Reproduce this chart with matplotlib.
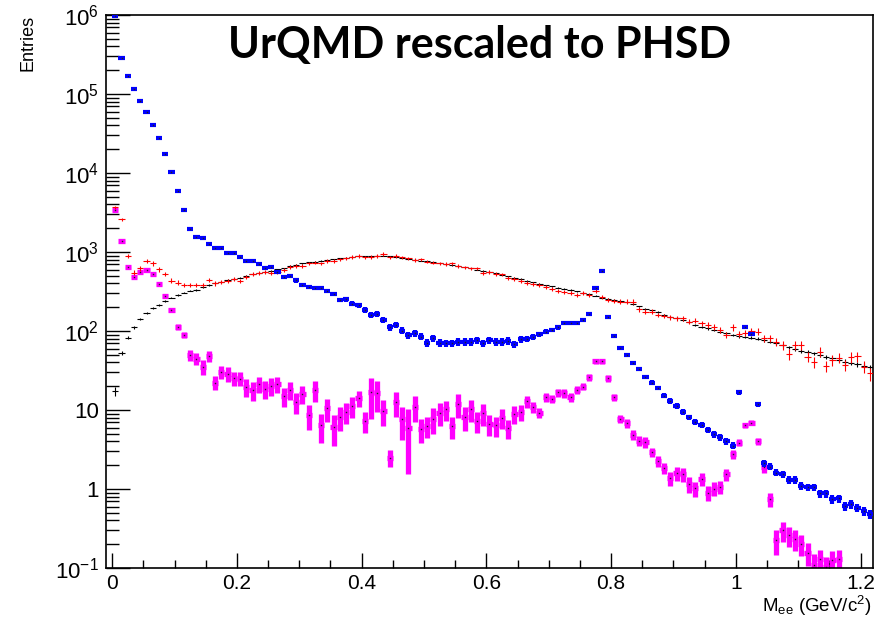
import numpy as np
import matplotlib
matplotlib.use('Agg')
import matplotlib.pyplot as plt
from matplotlib.ticker import LogLocator, MultipleLocator, FuncFormatter, NullFormatter, FixedLocator

plt.rcParams['font.family'] = ['Liberation Sans', 'DejaVu Sans']
plt.rcParams['mathtext.fontset'] = 'custom'
plt.rcParams['mathtext.rm'] = 'Liberation Sans'
plt.rcParams['mathtext.it'] = 'Liberation Sans:italic'
plt.rcParams['mathtext.bf'] = 'Liberation Sans:bold'

# ---------------- data (bin width 0.01 GeV/c^2, 122 bins) ----------------
bin_width = 0.01
mass = np.round(np.arange(122) * bin_width + bin_width / 2, 4)

blue = [9.7e5, 2.83e5, 1.67e5, 1.17e5, 8.2e4, 6.0e4, 4.1e4, 2.8e4, 1.75e4, 1.03e4,
        5900, 3400, 1970, 1560, 1500, 1250, 1120, 1120, 980, 980,
        855, 780, 760, 698, 627, 640, 563, 487, 497, 438,
        382, 360, 353, 347, 323, 294, 247, 251, 222, 211,
        185, 160, 164, 138, 111, 119, 101, 89, 94, 85,
        71, 81, 71, 70, 70, 73, 73, 73, 77, 70,
        77, 73, 73, 75, 68, 78.5, 80, 85, 91, 98,
        103, 111, 125, 125, 127, 138, 164, 353, 580, 152,
        87, 61.5, 49.7, 39, 32.7, 26.4, 22.2, 19, 15.2, 13,
        11.2, 9.5, 8.07, 7.05, 6.5, 5.58, 4.92, 4.5, 4.0, 3.53,
        16.7, 113, 91, 11.8, 2.11, 1.92, 1.61, 1.53, 1.30, 1.30,
        1.10, 1.05, 1.05, 0.88, 0.88, 0.74, 0.76, 0.61, 0.64, 0.58,
        0.53, 0.48]
blue_err = [2000, 800, 600, 500, 400, 300, 250, 200, 150, 100,
            70, 50, 40, 35, 35, 30, 30, 30, 28, 28,
            26, 25, 24, 23, 22, 38, 34, 30, 30, 27,
            24, 22, 22, 21, 20, 19, 16, 16, 15, 14,
            17, 15, 15, 13, 11, 11, 10, 9, 9, 9,
            8, 8, 8, 8, 8, 8, 8, 8, 8, 8,
            8, 8, 8, 8, 7, 8, 7, 7, 7, 7,
            7, 7, 7, 7, 7, 7, 8, 12, 15, 6,
            4, 3, 2.5, 2, 1.8, 1.6, 1.5, 1.3, 1.1, 1.0,
            0.9, 0.8, 0.7, 0.6, 0.6, 0.5, 0.45, 0.42, 0.38, 0.35,
            1.2, 4, 4, 1.0, 0.22, 0.2, 0.17, 0.16, 0.14, 0.14,
            0.12, 0.12, 0.12, 0.1, 0.1, 0.09, 0.09, 0.08, 0.08, 0.075,
            0.07, 0.065]

magenta = [3400, 1390, 640, 487, 563, 600, 525, 393, 279, 185,
           113, 89, 49.7, 44.7, 35.3, 48.3, 22.2, 30.5, 28.6, 25.2,
           25, 19.7, 17.9, 21.3, 18.6, 20.1, 21.3, 15.0, 17.9, 12.6,
           16, 8.65, 17.9, 6.4, 10.5, 6.03, 8.2, 9.44, 11.35, 14.1,
           7.2, 16.7, 16.3, 9.8, 2.5, 12.6, 7.6, 5.97, 11.0, 5.8,
           6.27, 7.7, 9.25, 10.2, 6.27, 11.9, 8.07, 10.2, 7.3, 9.1,
           6.65, 6.4, 8.0, 5.86, 9.0, 9.44, 12.9, 11.0, 9.25, 14.7,
           13.9, 16.7, 16.3, 14.4, 17.9, 19.7, 26.2, 41.3, 41.3, 25.4,
           14.5, 7.76, 6.79, 4.87, 4.09, 3.93, 2.91, 2.26, 1.83, 1.38,
           1.58, 1.53, 1.15, 1.02, 1.35, 0.90, 1.01, 1.07, 1.53, 2.77,
           3.86, 6.4, 6.9, 4.0, 1.88, 0.74, 0.226, 0.30, 0.26, 0.235,
           0.20, 0.155, 0.109, 0.129, 0.103, 0.126, 0.129, np.nan, np.nan, np.nan,
           np.nan, np.nan]
magenta_err = [80, 40, 25, 22, 24, 25, 22, 18, 15, 12,
               9, 8, 8, 7.6, 7.5, 8, 4.5, 6, 6, 5,
               5, 5, 5, 5, 5, 5, 5, 4, 4.5, 3.8,
               4, 3, 5.4, 2.6, 3.4, 2.5, 2.7, 2.8, 3.4, 3.1,
               2.1, 9, 7, 3.6, 0.6, 4.4, 3.4, 4.4, 4, 2,
               1.9, 2.8, 2.9, 2.9, 2, 4, 2.7, 3.2, 2.2, 2.8,
               1.9, 1.8, 2.2, 1.6, 2.4, 2.2, 2.2, 1.8, 1.4, 1.9,
               1.8, 2, 2, 1.8, 2, 2, 2.6, 3, 3, 2.5,
               1.5, 1.0, 0.9, 0.7, 0.6, 0.6, 0.4, 0.35, 0.3, 0.28,
               0.3, 0.3, 0.25, 0.22, 0.25, 0.2, 0.2, 0.2, 0.25, 0.35,
               0.4, 0.5, 0.5, 0.4, 0.3, 0.15, 0.08, 0.085, 0.075, 0.07,
               0.06, 0.05, 0.04, 0.04, 0.035, 0.04, 0.04, np.nan, np.nan, np.nan,
               np.nan, np.nan]

red = [3680, 2590, 890, 547, 622, 769, 719, 604, 527, 434,
       409, 382, 382, 382, 382, 442, 401, 420, 432, 455,
       432, 479, 527, 537, 552, 537, 563, 592, 640, 665,
       665, 719, 733, 719, 776, 776, 807, 832, 870, 890,
       855, 870, 890, 944, 855, 890, 855, 832, 790, 807,
       755, 733, 719, 705, 719, 665, 640, 621, 621, 547,
       563, 527, 522, 473, 451, 434, 409, 393, 382, 357,
       337, 321, 315, 306, 286, 300, 286, 324, 272, 247,
       240, 236, 236, 236, 188, 176, 176, 160, 155, 149,
       145, 145, 131, 135, 125, 119, 113, 103, 89, 111,
       92, 95, 100, 98, 81, 81, 73, 66.5, 51, 66.5,
       66.5, 47.3, 41, 55, 36, 43, 46, 37, 46.5, 48,
       35.3, 29]
red_err = [150, 110, 60, 40, 42, 48, 45, 40, 35, 30,
           28, 26, 26, 26, 26, 28, 26, 27, 27, 28,
           27, 29, 31, 31, 32, 31, 32, 33, 35, 36,
           36, 38, 38, 38, 40, 40, 41, 42, 43, 44,
           43, 43, 44, 46, 43, 44, 43, 42, 40, 40,
           38, 37, 36, 36, 36, 34, 33, 32, 32, 29,
           30, 28, 28, 26, 25, 24, 23, 22, 22, 20,
           19, 19, 18, 18, 17, 17, 17, 18, 16, 15,
           15, 15, 15, 15, 13, 12, 12, 11, 11, 11,
           11, 11, 10, 10, 10, 9.5, 9, 9, 8.5, 10,
           9, 9, 10, 10, 9, 9, 9, 8.5, 7.5, 8.5,
           8.5, 7, 6.5, 7.5, 6, 6.5, 7, 6, 7, 7,
           6, 5.5]

black = [17.4, 53, 82, 111, 141, 167, 197, 213, 242, 264,
         286, 306, 324, 330, 357, 382, 401, 420, 442, 455,
         474, 497, 521, 546, 564, 580, 603, 622, 665, 685,
         719, 740, 755, 776, 790, 815, 832, 848, 870, 880,
         880, 890, 900, 900, 885, 870, 850, 825, 800, 780,
         760, 740, 720, 700, 680, 660, 640, 620, 600, 580,
         558, 536, 515, 495, 470, 455, 435, 415, 398, 380,
         368, 355, 342, 330, 318, 302, 290, 280, 265, 257,
         249, 240, 230, 220, 205, 192, 182, 172, 160, 152,
         145, 138, 130, 120, 113, 108, 103, 98, 94, 89,
         86, 84, 82, 80, 76, 73, 70, 66, 62, 59,
         56, 54, 52, 50, 47, 45, 43, 41, 39.5, 38,
         36.5, 35]
black_err = [2.2, 3.0, 3.5, 4.0, 4.5, 5.0, 5.5, 5.5, 6.0, 6.0,
             6.5, 6.5, 7, 7, 7, 7.5, 7.5, 8, 8, 8,
             8, 8.5, 8.5, 9, 9, 9, 9.5, 9.5, 10, 10,
             10, 10, 10.5, 10.5, 10.5, 11, 11, 11, 11, 11,
             11, 11, 11, 11, 11, 11, 11, 11, 10.5, 10.5,
             10, 10, 10, 10, 10, 9.5, 9.5, 9, 9, 9,
             8.5, 8.5, 8.5, 8, 8, 8, 7.5, 7.5, 7.5, 7,
             7, 7, 6.5, 6.5, 6.5, 6, 6, 6, 6, 6,
             5.5, 5.5, 5.5, 5.5, 5, 5, 5, 5, 4.5, 4.5,
             4.5, 4.5, 4.5, 4, 4, 4, 4, 4, 4, 3.5,
             3.5, 3.5, 3.5, 3.5, 3.5, 3.5, 3, 3, 3, 3,
             3, 3, 3, 3, 3, 2.8, 2.8, 2.8, 2.6, 2.6,
             2.5, 2.5]

title = "UrQMD rescaled to PHSD"
ytick_vals = [1e-1, 1, 10, 1e2, 1e3, 1e4, 1e5, 1e6]
ytick_text = [r'$10^{-1}$', '1', '10', r'$10^{2}$', r'$10^{3}$', r'$10^{4}$', r'$10^{5}$', r'$10^{6}$']

# ---------------- figure ----------------
W, H = 878, 619
fig = plt.figure(figsize=(W / 100, H / 100), dpi=100)
ax = fig.add_axes([106 / W, 1 - 568 / H, (873 - 106) / W, (568 - 15) / H])
ax.set_yscale('log')
ax.set_xlim(-0.01, 1.22)
ax.set_ylim(0.1, 1e6)


def draw(vals, errs, color, lw, z, dot=False):
    v = np.asarray(vals, dtype=float)
    e = np.asarray(errs, dtype=float)
    ok = ~np.isnan(v)
    ax.errorbar(mass[ok], v[ok], xerr=bin_width / 2, yerr=e[ok], fmt='none',
                ecolor=color, elinewidth=lw, capsize=0, zorder=z)
    if dot:
        ax.plot(mass[ok], v[ok], ls='none', marker='s', ms=1.0, mew=0,
                color='#222222', zorder=z + 0.1)


draw(magenta, magenta_err, '#ff00ff', 3.8, 2, dot=True)
draw(black, black_err, 'black', 0.8, 3)
draw(red, red_err, '#ff0000', 0.8, 4)
draw(blue, blue_err, '#0000ff', 3.0, 5, dot=True)

# axes styling (ROOT-like)
for s in ax.spines.values():
    s.set_linewidth(1.2)
ax.xaxis.set_major_locator(MultipleLocator(0.2))
ax.xaxis.set_minor_locator(MultipleLocator(0.05))
ax.xaxis.set_major_formatter(FuncFormatter(lambda v, p: '0' if abs(v) < 1e-9 else ('1' if abs(v - 1) < 1e-9 else f'{v:.1f}')))
ax.yaxis.set_major_locator(FixedLocator(ytick_vals))
ax.yaxis.set_major_formatter(FuncFormatter(lambda v, p: ytick_text[ytick_vals.index(min(ytick_vals, key=lambda t: abs(np.log10(t) - np.log10(v))))]))
ax.yaxis.set_minor_locator(LogLocator(base=10, subs=np.arange(2, 10), numticks=20))
ax.yaxis.set_minor_formatter(NullFormatter())
ax.tick_params(axis='x', which='major', direction='in', length=11, width=1, labelsize=15, pad=4)
ax.tick_params(axis='x', which='minor', direction='in', length=6, width=1)
ax.tick_params(axis='y', which='major', direction='in', length=17, width=1, labelsize=16, pad=5)
ax.tick_params(axis='y', which='minor', direction='in', length=9, width=1)
ax.tick_params(top=False, right=False, which='both')

fig.text(872 / W, 1 - 612 / H, r'M$_{\mathrm{ee}}$ (GeV/c$^{2}$)', ha='right', va='baseline', fontsize=13.5)
fig.text(28 / W, 1 - 15 / H, 'Entries', rotation=90, ha='center', va='top', fontsize=13)
fig.text(480 / W, 1 - 45 / H, title, ha='center', va='center', fontsize=31,
         fontweight='bold', family=['Lato', 'DejaVu Sans'])

fig.savefig('out.png', dpi=100)
